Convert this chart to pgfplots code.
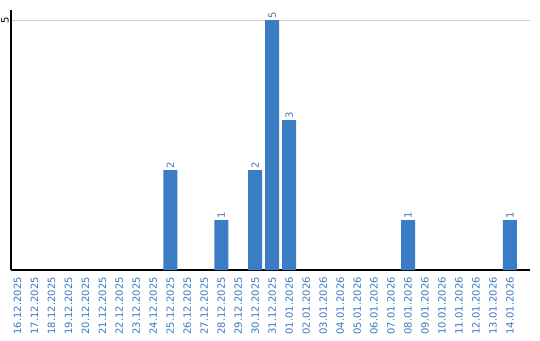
\documentclass[border=0pt]{standalone}
\usepackage{fontspec}
\setmainfont{DejaVu Sans}
\usepackage{pgfplots}
\pgfplotsset{compat=1.18}
\definecolor{barblue}{HTML}{3B7DC4}
\definecolor{txtblue}{HTML}{3A78C0}
\definecolor{gridgray}{HTML}{CCCCCC}
\begin{document}
\begin{tikzpicture}[x=1bp,y=1bp]
\useasboundingbox (0,0) rectangle (540,340);
\begin{axis}[
  at={(11bp,70bp)}, anchor=south west,
  scale only axis,
  width=519bp, height=260bp,
  xmin=-0.38, xmax=30.18,
  ymin=0, ymax=5.2,
  axis x line=bottom, axis y line=left,
  axis line style={-, black, line width=1.2bp},
  xtick={0,...,29},
  xticklabels={16.12.2025,17.12.2025,18.12.2025,19.12.2025,20.12.2025,21.12.2025,22.12.2025,23.12.2025,24.12.2025,25.12.2025,26.12.2025,27.12.2025,28.12.2025,29.12.2025,30.12.2025,31.12.2025,01.01.2026,02.01.2026,03.01.2026,04.01.2026,05.01.2026,06.01.2026,07.01.2026,08.01.2026,09.01.2026,10.01.2026,11.01.2026,12.01.2026,13.01.2026,14.01.2026},
  x tick label style={rotate=90, anchor=east, font=\fontsize{10bp}{12bp}\selectfont, text=txtblue, inner xsep=7bp, inner ysep=0pt},
  ytick={5},
  y tick label style={rotate=90, anchor=south, font=\fontsize{10bp}{12bp}\selectfont, inner sep=2bp},
  /pgf/number format/assume math mode=true,
  major tick length=0pt,
  ymajorgrids, grid style={gridgray, line width=0.8bp},
  clip=false,
]
\addplot[ybar, bar width=14bp, fill=barblue, draw=none,
  nodes near coords,
  every node near coord/.append style={rotate=90, anchor=west, font=\fontsize{10bp}{12bp}\selectfont, text=txtblue, inner sep=1.5bp}]
  coordinates {(9,2) (12,1) (14,2) (15,5) (16,3) (23,1) (29,1)};
\end{axis}
\end{tikzpicture}
\end{document}
